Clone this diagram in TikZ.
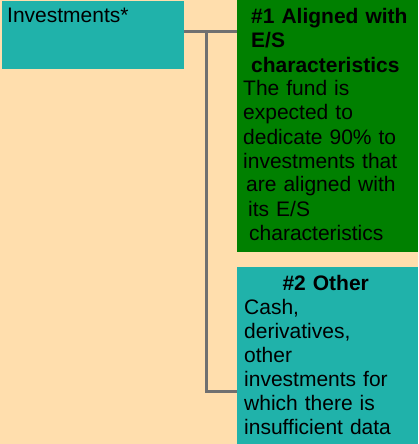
\documentclass[tikz,border=0pt]{standalone}
\usepackage{fontspec}
\setmainfont{Liberation Sans}
\usepackage{xcolor}
\usetikzlibrary{positioning}
\definecolor{peach}{HTML}{FFDEAD}
\definecolor{tealbox}{HTML}{20B2AA}
\definecolor{greenbox}{HTML}{008000}
\definecolor{linkgray}{HTML}{707070}

\begin{document}
\begin{tikzpicture}[x=1pt, y=-1pt,
    box/.style={anchor=north west, inner sep=0pt, outer sep=0pt, draw=none},
    txt/.style={anchor=base west, inner sep=0pt, align=left, font=\fontsize{21}{24}\selectfont},
    link/.style={draw=linkgray, line width=3pt}]
            \fill[peach] (0,0) rectangle (418,444);
            \node[box, fill=tealbox, minimum width=182pt, minimum height=68pt] (investments) at (2,1) {};
            \node[box, fill=greenbox, minimum width=181pt, minimum height=252pt] (aligned) at (237,0) {};
            \node[box, fill=tealbox, minimum width=181pt, minimum height=177pt] (other) at (237,267) {};
            \node[txt] (investments_text) at (7,23) {Investments*};
            \node[txt, text width=170pt] (aligned_text) at (243,24) {\hspace*{8pt}\textbf{\#1 Aligned with} \\ \hspace*{8pt}\textbf{E/S} \\ \hspace*{8pt}\textbf{characteristics} \\ The fund is \\ expected to \\ dedicate 90\% to \\ investments that \\ \hspace*{3pt}are aligned with \\ \hspace*{5pt}its E/S \\ \hspace*{6pt}characteristics};
            \node[txt, text width=163pt] (other_text) at (244,290) {\makebox[163pt][c]{\textbf{\#2 Other}} \\ Cash, \\ derivatives, \\ other \\ investments for \\ which there is \\ insufficient data};
            \coordinate (split) at (206,32);
            \coordinate (bend) at (206,391);
            \draw[link] (investments.east |- split) -- (split) -- (aligned.west |- split);
            \draw[link] (split) -- (bend) -- (other.west |- bend);
        \end{tikzpicture}
\end{document}
